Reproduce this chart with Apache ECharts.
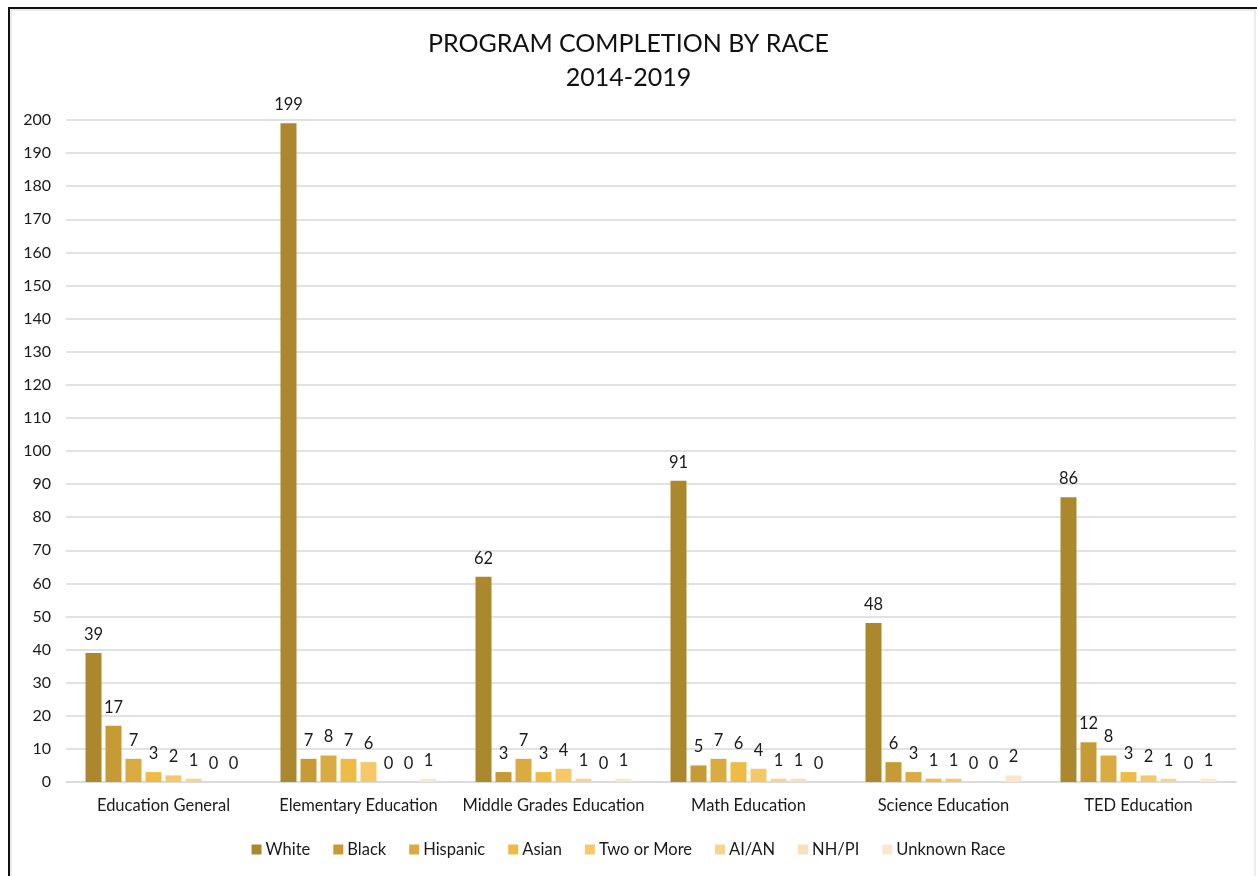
<!DOCTYPE html>
<html>
<head>
<meta charset="utf-8">
<script src="https://cdn.jsdelivr.net/npm/echarts@6/dist/echarts.min.js"></script>
<style>
  html, body { margin: 0; padding: 0; background: #fff; }
  #chart { width: 1257px; height: 876px; }
</style>
</head>
<body>
<div id="chart"></div>
<script>
// Programs shown along the x axis
const programs = ['Education General', 'Elementary Education', 'Middle Grades Education',
  'Math Education', 'Science Education', 'TED Education'];

// Completions per race group, one value per program
const white     = [39, 199, 62, 91, 48, 86];
const black     = [17, 7, 3, 5, 6, 12];
const hispanic  = [7, 8, 7, 7, 3, 8];
const asian     = [3, 7, 3, 6, 1, 3];
const twoOrMore = [2, 6, 4, 4, 1, 2];
const aian      = [1, 0, 1, 1, 0, 1];
const nhpi      = [0, 0, 0, 1, 0, 0];
const unknown   = [0, 1, 1, 0, 2, 1];

const groupNames = ['White', 'Black', 'Hispanic', 'Asian', 'Two or More', 'AI/AN', 'NH/PI', 'Unknown Race'];
const groupValues = [white, black, hispanic, asian, twoOrMore, aian, nhpi, unknown];
const groupColors = ['#AB872E', '#C69B36', '#DAAB40', '#EEBC46', '#F6C86A', '#F8D493', '#FADFB8', '#FCE7CD'];

const FONT = 'Lato';

const chart = echarts.init(document.getElementById('chart'));

const series = groupNames.map((name, i) => ({
  name: name,
  type: 'bar',
  data: groupValues[i],
  barGap: '25%',
  barCategoryGap: '20%',
  itemStyle: { color: groupColors[i] },
  label: {
    show: true,
    position: 'top',
    distance: 10,
    fontFamily: FONT,
    fontSize: 16.5,
    color: '#1a1a1a'
  }
}));

chart.setOption({
  animation: false,
  backgroundColor: '#fff',
  title: {
    text: 'PROGRAM COMPLETION BY RACE\n2014-2019',
    left: 'center',
    top: 22,
    textStyle: {
      fontFamily: FONT,
      fontWeight: 'normal',
      fontSize: 25,
      lineHeight: 34,
      color: '#111'
    }
  },
  legend: {
    bottom: 13,
    left: 'center',
    itemWidth: 10,
    itemHeight: 10,
    itemGap: 23,
    icon: 'rect',
    textStyle: { fontFamily: FONT, fontSize: 16.5, color: '#1a1a1a', padding: [0, 0, 0, -1] },
    data: groupNames
  },
  grid: { left: 66, right: 21, top: 120, bottom: 94, containLabel: false },
  xAxis: {
    type: 'category',
    data: programs,
    axisLine: { lineStyle: { color: '#d9d9d9', width: 1.5 } },
    axisTick: { show: false },
    axisLabel: { interval: 0, fontFamily: FONT, fontSize: 16.5, color: '#1a1a1a', margin: 15 }
  },
  yAxis: {
    type: 'value',
    min: 0,
    max: 200,
    interval: 10,
    axisLine: { show: false },
    axisTick: { show: false },
    splitLine: { lineStyle: { color: '#d9d9d9', width: 1.5 } },
    axisLabel: { fontFamily: FONT, fontSize: 16, color: '#1a1a1a', margin: 15 }
  },
  graphic: [
    { type: 'rect', shape: { x: 8, y: 7, width: 2, height: 869 }, style: { fill: '#111' } },
    { type: 'rect', shape: { x: 8, y: 7, width: 1249, height: 2 }, style: { fill: '#111' } },
    { type: 'rect', shape: { x: 11, y: 10, width: 1244, height: 880 }, style: { fill: 'none', stroke: '#d9d9d9', lineWidth: 1 } }
  ],
  series: series
});
</script>
</body>
</html>
